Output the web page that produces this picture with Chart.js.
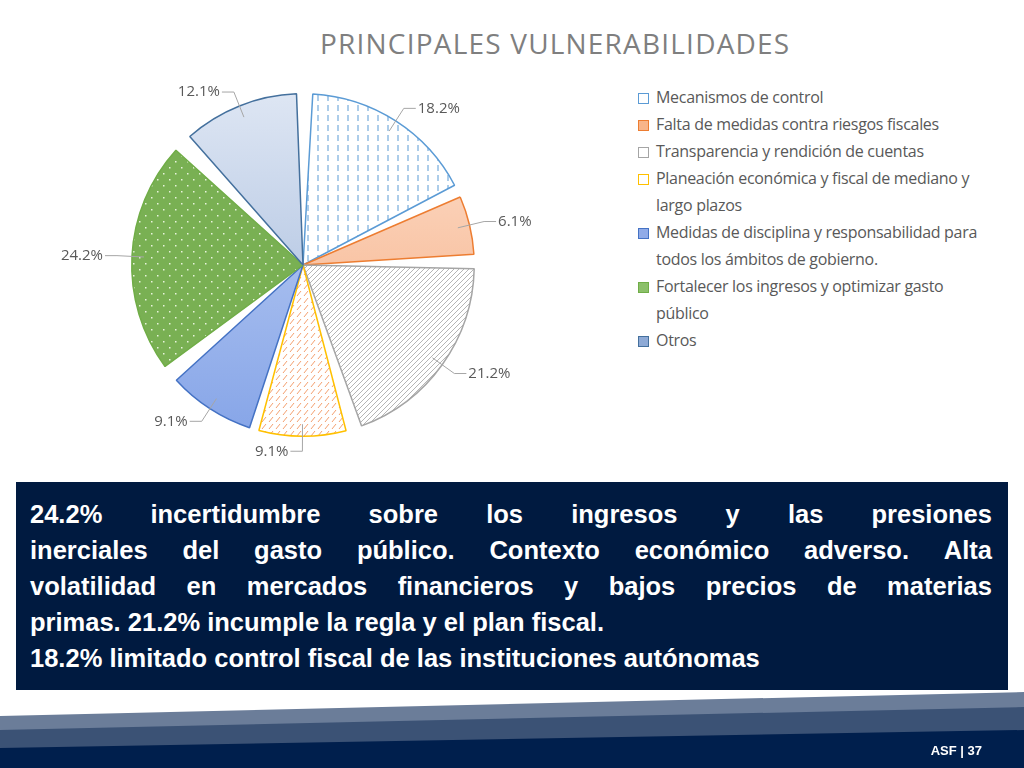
<!DOCTYPE html>
<html><head><meta charset="utf-8">
<script src="https://cdn.jsdelivr.net/npm/chart.js"></script>
<style>
body{margin:0;width:1024px;height:768px;position:relative;background:#fff;overflow:hidden;font-family:"Open Sans",sans-serif}
#title{position:absolute;left:320px;top:24px;font-size:28px;color:#7f7f7f;letter-spacing:1.2px}
#cw{position:absolute;left:23px;top:45px;width:560px;height:440px}
#legend{position:absolute;left:638px;top:84px;width:350px;font-size:16px;color:#595959;line-height:27px;letter-spacing:-0.3px}
#legend .it{position:relative;padding-left:18px}
#legend .sw{position:absolute;left:0;top:9px;width:9px;height:9px;border:1px solid}
#box{position:absolute;left:16px;top:482px;width:962px;height:185px;background:#001a40;color:#fff;font-family:"Liberation Sans",Arial,sans-serif;font-weight:bold;font-size:25.5px;line-height:36px;padding:14px 16px 9px 14px}
#box .j{text-align:justify;text-align-last:justify;white-space:nowrap;display:flex;justify-content:space-between}
#foot{position:absolute;left:0;top:0}
#pg{position:absolute;right:42px;top:743px;color:#fff;font-family:"Liberation Sans",Arial;font-weight:bold;font-size:13px}
</style></head><body>
<div id="title">PRINCIPALES VULNERABILIDADES</div>
<div id="cw"><canvas id="c"></canvas></div>
<div id="legend"></div>
<div id="box"></div>
<svg id="foot" width="1024" height="768">
<polygon points="0,716 1024,692 1024,768 0,768" fill="#6b7d99"/>
<polygon points="0,730 1024,707 1024,768 0,768" fill="#3b5275"/>
<polygon points="0,748 1024,730 1024,768 0,768" fill="#001f4d"/>
</svg>
<div id="pg">ASF | 37</div>
<script>
const categories=["Mecanismos de control","Falta de medidas contra riesgos fiscales","Transparencia y rendición de cuentas","Planeación económica y fiscal de mediano y largo plazos","Medidas de disciplina y responsabilidad para todos los ámbitos de gobierno.","Fortalecer los ingresos y optimizar gasto público","Otros"];
const values=[18.2,6.1,21.2,9.1,9.1,24.2,12.1];
const labels=["18.2%","6.1%","21.2%","9.1%","9.1%","24.2%","12.1%"];
const borders=["#5b9bd5","#ed7d31","#a5a5a5","#ffc000","#4472c4","#70ad47","#44709d"];
const boxLines=["24.2% incertidumbre sobre los ingresos y las presiones","inerciales del gasto público. Contexto económico adverso. Alta","volatilidad en mercados financieros y bajos precios de materias"];
const boxTail=["primas. 21.2% incumple la regla y el plan fiscal.","18.2% limitado control fiscal de las instituciones autónomas"];
const box=document.getElementById('box');
boxLines.forEach(l=>{const d=document.createElement('div');d.className='j';l.split(' ').forEach(w=>{const s=document.createElement('span');s.textContent=w;d.appendChild(s);});box.appendChild(d);});
boxTail.forEach(l=>{const d=document.createElement('div');d.textContent=l;box.appendChild(d);});

function pat(w,h,bg,draw){const c=document.createElement('canvas');c.width=w;c.height=h;const x=c.getContext('2d');x.fillStyle=bg;x.fillRect(0,0,w,h);draw(x);return x.createPattern(c,'repeat');}
const ctx0=document.getElementById('c').getContext('2d');
function grad(a,b){const g=ctx0.createLinearGradient(0,40,0,440);g.addColorStop(0,a);g.addColorStop(1,b);return g;}
const fills=[
 pat(10,10,'#fff',x=>{x.strokeStyle='#5b9bd5';x.lineWidth=1;x.beginPath();x.moveTo(5,0);x.lineTo(5,6);x.stroke();}),
 grad('#fde3d2','#f4a070'),
 pat(5,5,'#fff',x=>{x.strokeStyle='#b5b5b5';x.lineWidth=1;x.beginPath();x.moveTo(0,5);x.lineTo(5,0);x.stroke();}),
 pat(7,7,'#fff',x=>{x.strokeStyle='#f4a070';x.lineWidth=1;x.beginPath();x.moveTo(1,6);x.lineTo(5,1);x.stroke();}),
 grad('#c7d6f5','#7d9ee6'),
 pat(12,12,'#79b053',x=>{x.fillStyle='#e8f3dc';x.fillRect(2,2,1.5,1.5);x.fillRect(8,8,1.5,1.5);}),
 grad('#dfe7f4','#93add5')
];
const lblPlugin={id:'lbl',afterDatasetsDraw(ch){const c=ch.ctx;const meta=ch.getDatasetMeta(0);c.save();c.font='15px "Open Sans"';c.fillStyle='#595959';c.strokeStyle='#a6a6a6';c.lineWidth=1;
 meta.data.forEach((a,i)=>{const p=a.getProps(['x','y','startAngle','endAngle','outerRadius']);const m=(p.startAngle+p.endAngle)/2;
 const cx=p.x,cy=p.y;
 const x1=cx+Math.cos(m)*(p.outerRadius-3),y1=cy+Math.sin(m)*(p.outerRadius-3);
 const x2=cx+Math.cos(m)*(p.outerRadius+24),y2=cy+Math.sin(m)*(p.outerRadius+24);
 const right=Math.cos(m)>=0;const x3=x2+(right?12:-12);
 c.beginPath();c.moveTo(x1,y1);c.lineTo(x2,y2);c.lineTo(x3,y2);c.stroke();
 c.textBaseline='middle';c.textAlign=right?'left':'right';c.fillText(labels[i],x3+(right?2:-2),y2);});c.restore();}};
new Chart(ctx0,{type:'pie',data:{labels:categories,datasets:[{data:values,backgroundColor:fills,borderColor:borders,borderWidth:1.5,spacing:18}]},
options:{responsive:true,maintainAspectRatio:false,animation:false,layout:{padding:{top:48,bottom:48,left:60,right:60}},plugins:{legend:{display:false},tooltip:{enabled:false}}},plugins:[lblPlugin]});
const lg=document.getElementById('legend');
const swbg=['#fff','#f8b58a','#fff','#fff','#90abe8','#8cc06a','#8eaad6'];
categories.forEach((t,i)=>{const d=document.createElement('div');d.className='it';d.innerHTML='<span class="sw" style="border-color:'+borders[i]+';background:'+swbg[i]+'"></span>'+t;lg.appendChild(d);});
</script>
</body></html>
